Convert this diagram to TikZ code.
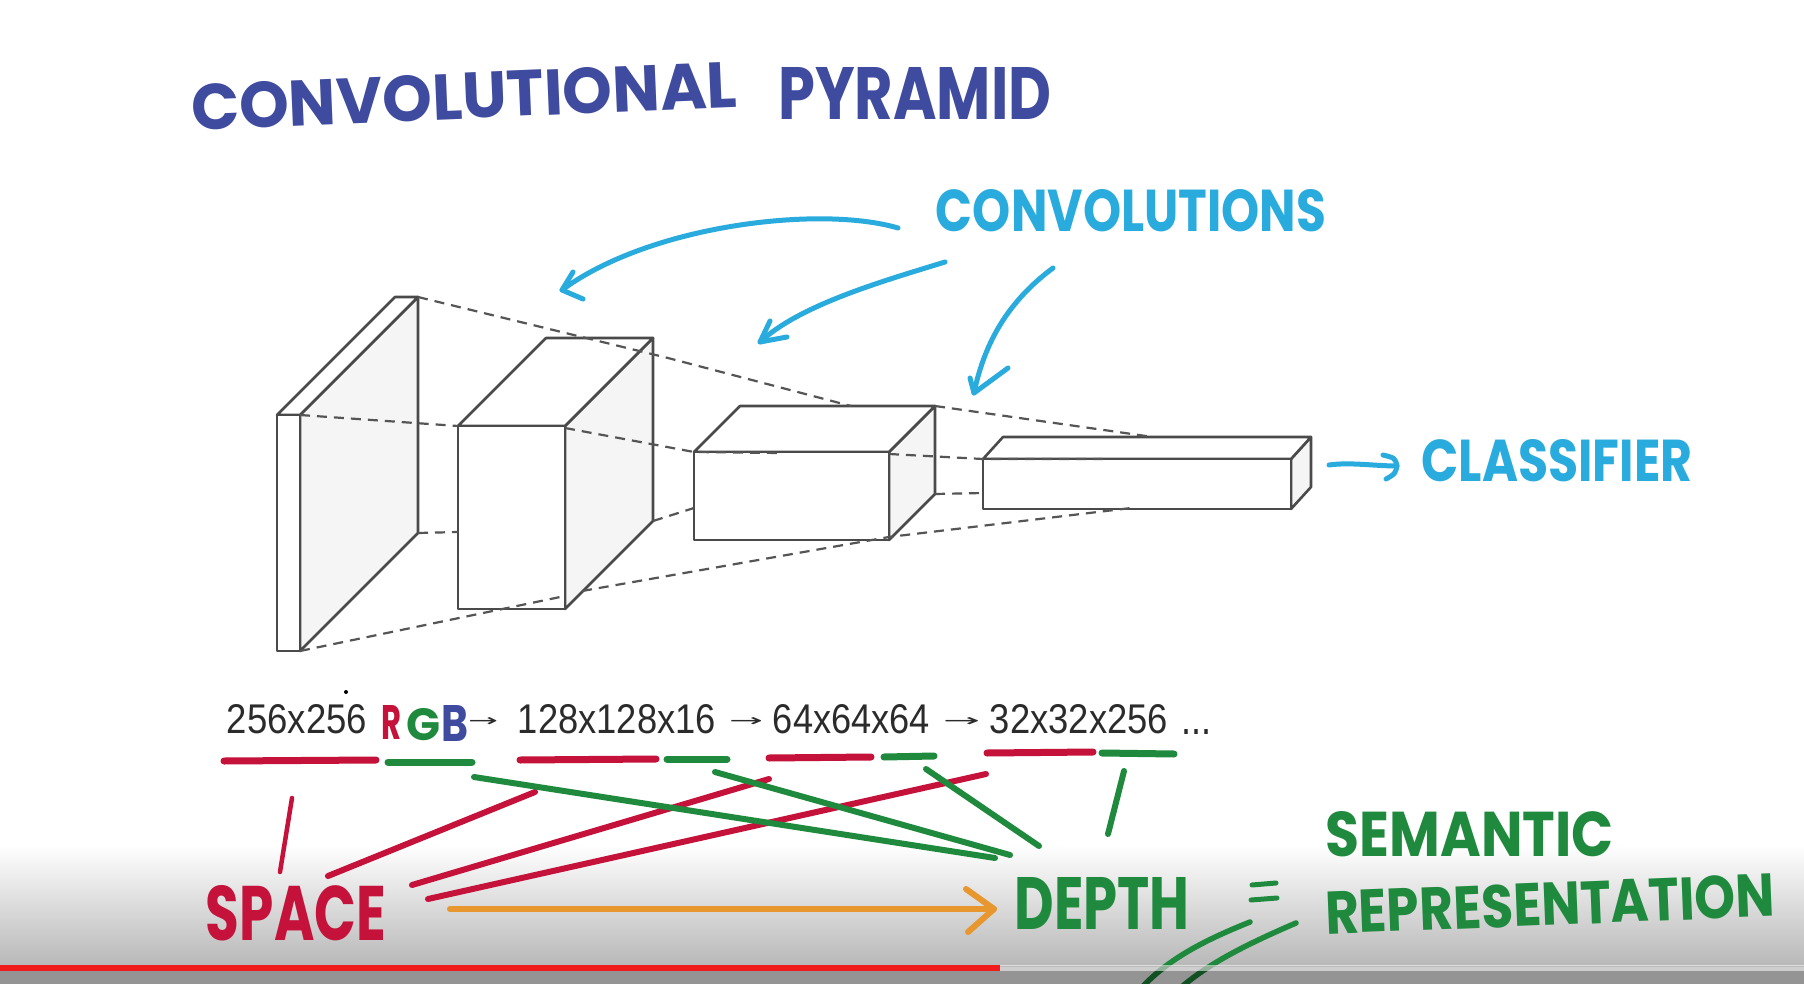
\documentclass[tikz,border=0pt]{standalone}
\usepackage{fontspec}
\usepackage{graphicx}
\setmainfont{Liberation Sans}
\newfontfamily\hand{Poppins}
\newfontfamily\dejavu{DejaVu Sans}
\usetikzlibrary{arrows.meta}

\definecolor{edgec}{HTML}{4A4A4A}
\definecolor{dashc}{HTML}{555555}
\definecolor{indigo}{HTML}{3F4B9E}
\definecolor{cyanhand}{HTML}{2AABDD}
\definecolor{redhand}{HTML}{C4123A}
\definecolor{greenhand}{HTML}{1F8A3E}
\definecolor{orangehand}{HTML}{E8962E}
\definecolor{sidegray}{HTML}{F5F5F5}
\definecolor{txt}{HTML}{2B2B2B}
\definecolor{ytred}{HTML}{F21B1B}

\tikzset{
 boxedge/.style={draw=edgec, line width=2.6pt, line join=round},
 frontface/.style={boxedge, fill=white},
 sideface/.style={boxedge, fill=sidegray},
 pyrdash/.style={draw=dashc, line width=2.2pt, dash pattern=on 10pt off 7pt},
 bluestroke/.style={draw=cyanhand, line width=5pt, line cap=round, line join=round},
 redstroke/.style={draw=redhand, line width=6pt, line cap=round},
 greenstroke/.style={draw=greenhand, line width=6pt, line cap=round, line join=round},
 ulred/.style={draw=redhand, line width=7pt, line cap=round},
 ulgreen/.style={draw=greenhand, line width=7pt, line cap=round},
 lbl/.style={inner sep=0pt, outer sep=0pt},
 handtext/.style={lbl, font=\hand\bfseries},
 dimtext/.style={lbl, text=txt},
}

% x1 y1 x2 y2 dx dy  (front face rectangle, depth offset)
\newcommand\pyrbox[6]{%
 \path[sideface] (#3,#2) -- ({#3+#5},{#2+#6}) -- ({#3+#5},{#4+#6}) -- (#3,#4) -- cycle;
 \path[frontface] (#1,#2) -- ({#1+#5},{#2+#6}) -- ({#3+#5},{#2+#6}) -- (#3,#2) -- cycle;
 \path[frontface] (#1,#2) rectangle (#3,#4);
}

\begin{document}
\begin{tikzpicture}[x=1pt,y=-1pt]
\useasboundingbox (0,0) rectangle (1804,984);
\fill[white] (0,0) rectangle (1804,984);
\shade[top color=white, middle color=black!8, bottom color=black!28] (0,845) rectangle (1804,966);

% ---- pyramid blocks ----
\pyrbox{277}{415}{300}{651}{118}{-118}
\pyrbox{458}{426}{565}{609}{88}{-88}
\pyrbox{694}{452}{889}{540}{46}{-46}
\pyrbox{983}{459}{1291}{509}{20}{-22}

% ---- dashed pyramid lines ----
\draw[pyrdash] (418,297) -- (668,358) -- (851,406);
\draw[pyrdash] (935,406) -- (1153,437);
\draw[pyrdash] (300,415) -- (458,426);
\draw[pyrdash] (565,428) -- (694,452) -- (780,453);
\draw[pyrdash] (889,454) -- (983,459) -- (1107,459);
\draw[pyrdash] (418,533) -- (458,532);
\draw[pyrdash] (653,521) -- (694,508);
\draw[pyrdash] (935,494) -- (983,493);
\draw[pyrdash] (300,651) -- (565,596);
\draw[pyrdash] (582,591) -- (889,537) -- (1131,508);

% ---- titles and labels ----
\node[handtext, text=indigo, rotate=2.4] (title1) at (464,96) {\resizebox{546pt}{46pt}{CONVOLUTIONAL}};
\node[handtext, text=indigo] (title2) at (915,94) {\resizebox{273pt}{52pt}{PYRAMID}};
\node[handtext, text=cyanhand] (conv) at (1131,211) {\resizebox{390pt}{42pt}{CONVOLUTIONS}};
\node[handtext, text=cyanhand] (classif) at (1557,461) {\resizebox{271pt}{42pt}{CLASSIFIER}};

% convolution arrows
\coordinate (a1s) at (898,228); \coordinate (a1t) at (562,290);
\coordinate (a2s) at (945,262); \coordinate (a2t) at (760,342);
\coordinate (a3s) at (1053,268); \coordinate (a3t) at (974,393);
\draw[bluestroke] (a1s) .. controls (820,205) and (650,225) .. (a1t);
\draw[bluestroke] (573,272) -- (a1t) -- (583,299);
\draw[bluestroke] (a2s) .. controls (880,282) and (800,305) .. (a2t);
\draw[bluestroke] (770,321) -- (a2t) -- (787,337);
\draw[bluestroke] (a3s) .. controls (1010,300) and (985,340) .. (a3t);
\draw[bluestroke] (970,378) -- (a3t) -- (1008,368);

% classifier arrow
\coordinate (cls) at (1329,465); \coordinate (clt) at (1397,466);
\draw[bluestroke] (cls) .. controls (1350,462) and (1375,466) .. (clt);
\draw[bluestroke] (1383,455) .. controls (1395,458) .. (clt) .. controls (1395,474) .. (1386,479);

% ---- dimension row ----
\fill[black] (346,692) circle (2);
\node[dimtext] (d1) at (297,719.5) {\resizebox{140pt}{29pt}{256x256}};
\node[handtext, text=redhand] (cR) at (391,722) {\resizebox{20pt}{34pt}{R}};
\node[handtext, text=greenhand] (cG) at (424,725) {\resizebox{34pt}{32pt}{G}};
\node[handtext, text=indigo] (cB) at (454.5,723) {\resizebox{27pt}{36pt}{B}};
\node[dimtext, font=\dejavu] (ar1) at (483,722) {\resizebox{30pt}{9pt}{→}};
\node[dimtext] (d2) at (617,719.5) {\resizebox{198pt}{29pt}{128x128x16}};
\node[dimtext, font=\dejavu] (ar2) at (746,722) {\resizebox{34pt}{9pt}{→}};
\node[dimtext] (d3) at (851.5,719.5) {\resizebox{157pt}{29pt}{64x64x64}};
\node[dimtext, font=\dejavu] (ar3) at (961.5,722) {\resizebox{37pt}{9pt}{→}};
\node[dimtext] (d4) at (1079,719.5) {\resizebox{178pt}{29pt}{32x32x256}};
\node[dimtext] (d5) at (1196,731.5) {\resizebox{30pt}{5pt}{...}};

% underlines
\draw[ulred] (224,761) -- (376,760);
\draw[ulgreen] (388,762) -- (472,762);
\draw[ulred] (520,760) -- (656,759);
\draw[ulgreen] (667,759) -- (727,759);
\draw[ulred] (769,758) -- (871,757);
\draw[ulgreen] (884,757) -- (934,756);
\draw[ulred] (987,753) -- (1093,752);
\draw[ulgreen] (1102,753) -- (1174,754);

% ---- space / depth ----
\node[handtext, text=redhand] (space) at (296,913) {\resizebox{180pt}{55pt}{SPACE}};
\node[handtext, text=greenhand] (depth) at (1102,903) {\resizebox{175pt}{52pt}{DEPTH}};
\node[handtext, text=greenhand] (sem) at (1470,834) {\resizebox{288pt}{45pt}{SEMANTIC}};
\node[handtext, text=greenhand, rotate=2.3] (repr) at (1550,904) {\resizebox{450pt}{43pt}{REPRESENTATION}};

\coordinate (r1a) at (292,798); \coordinate (r1b) at (280,872);
\coordinate (r2a) at (535,792); \coordinate (r2b) at (328,876);
\coordinate (r3a) at (769,779); \coordinate (r3b) at (412,885);
\coordinate (r4a) at (986,774); \coordinate (r4b) at (428,899);
\draw[redstroke, line width=4.5pt] (r1a) -- (r1b);
\draw[redstroke] (r2a) -- (r2b);
\draw[redstroke] (r3a) -- (r3b);
\draw[redstroke] (r4a) -- (r4b);

\coordinate (g1a) at (474,777); \coordinate (g1b) at (995,858);
\coordinate (g2a) at (715,772); \coordinate (g2b) at (1010,855);
\coordinate (g3a) at (926,769); \coordinate (g3b) at (1039,846);
\coordinate (g4a) at (1124,771); \coordinate (g4b) at (1108,834);
\draw[greenstroke] (g1a) -- (g1b);
\draw[greenstroke] (g2a) -- (g2b);
\draw[greenstroke] (g3a) -- (g3b);
\draw[greenstroke] (g4a) -- (g4b);

% orange arrow space -> depth
\coordinate (oa) at (450,909); \coordinate (ob) at (994,909);
\draw[draw=orangehand, line width=6pt, line cap=round] (oa) -- (ob);
\draw[draw=orangehand, line width=6pt, line cap=round, line join=round] (966,889) -- (ob) -- (968,932);

% equals sign and double strokes
\draw[greenstroke, line width=5pt] (1252,885) -- (1276,883);
\draw[greenstroke, line width=5pt] (1251,900) -- (1277,898);
\coordinate (e1) at (1250,922); \coordinate (e2) at (1296,923);
\draw[greenstroke, line width=5.5pt] (e1) .. controls (1205,940) and (1165,960) .. (1138,992);
\draw[greenstroke, line width=5.5pt] (e2) .. controls (1245,945) and (1205,965) .. (1176,992);

% ---- player overlay ----
\fill[black, opacity=0.42] (0,966) rectangle (1804,984);
\fill[ytred] (0,965) rectangle (1000,971);
\fill[white, opacity=0.55] (1000,965) rectangle (1804,971);
\end{tikzpicture}
\end{document}
